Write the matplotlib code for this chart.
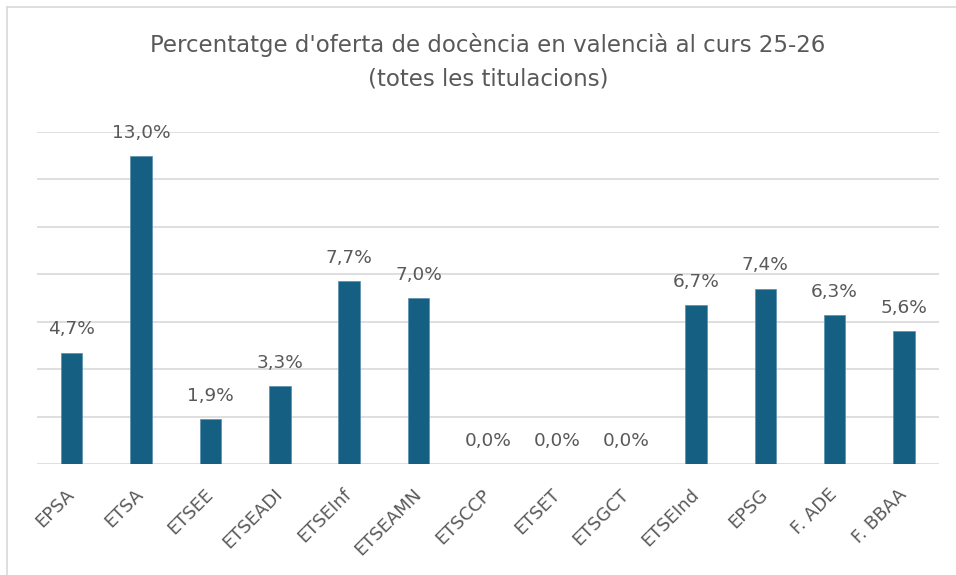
import matplotlib
matplotlib.use('Agg')
import matplotlib.pyplot as plt
from matplotlib.lines import Line2D
import numpy as np

plt.rcParams['font.family'] = ['DejaVu Sans']

# data
escoles = ['EPSA', 'ETSA', 'ETSEE', 'ETSEADI', 'ETSEInf', 'ETSEAMN', 'ETSCCP',
           'ETSET', 'ETSGCT', 'ETSEInd', 'EPSG', 'F. ADE', 'F. BBAA']
percentatge = [4.7, 13.0, 1.9, 3.3, 7.7, 7.0, 0.0, 0.0, 0.0, 6.7, 7.4, 6.3, 5.6]

titol = ["Percentatge d'oferta de docència en valencià al curs 25-26",
         "(totes les titulacions)"]

blau = '#156082'
gris_text = '#595959'
gris_linia = '#d9d9d9'

W, H = 956, 575
fig = plt.figure(figsize=(W / 100, H / 100), dpi=100)
ax = fig.add_axes([37 / W, 111 / H, 901.7 / W, 332 / H])

x = np.arange(len(escoles))
bars = ax.bar(x, percentatge, width=0.31, color=blau, edgecolor='#5a8fab',
              linewidth=0.5, zorder=3)

for xi, v in zip(x, percentatge):
    ax.annotate(f'{v:.1f}%'.replace('.', ','), (xi, v), xytext=(0, 13),
                textcoords='offset points', ha='center', va='baseline',
                fontsize=13.3, color=gris_text)

ax.set_xlim(-0.5, len(escoles) - 0.5)
ax.set_ylim(0, 14)
ax.set_yticks(np.arange(0, 15, 2))
ax.set_yticklabels([])
ax.yaxis.grid(True, color=gris_linia, linewidth=1.2, zorder=0)
ax.tick_params(axis='y', length=0)
ax.tick_params(axis='x', length=0, pad=20)
ax.set_xticks(x)
ax.set_xticklabels(escoles, rotation=45, ha='right', va='center',
                   rotation_mode='anchor', fontsize=13, color=gris_text)
for s in ax.spines.values():
    s.set_visible(False)

# two title lines, baselines
for linia, y_px in zip(titol, [52, 85]):
    fig.text(488 / W, 1 - y_px / H, linia, ha='center', va='baseline',
             fontsize=16.5, color=gris_text)

# chart area border (only top and left visible in the crop)
fig.add_artist(Line2D([7 / W, 1], [1 - 7 / H, 1 - 7 / H], color=gris_linia, lw=1.2))
fig.add_artist(Line2D([7 / W, 7 / W], [0, 1 - 7 / H], color=gris_linia, lw=1.2))

fig.savefig('out.png', dpi=100, facecolor='white')
